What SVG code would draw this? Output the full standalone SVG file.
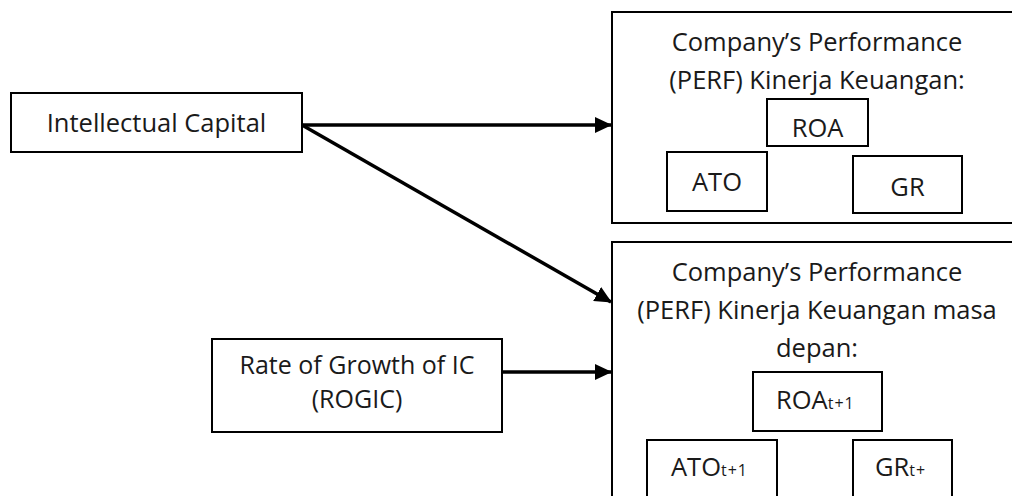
<svg xmlns="http://www.w3.org/2000/svg" width="1012" height="496" viewBox="0 0 1012 496">
<defs>
<style>
.box{fill:#fff;stroke:#000;stroke-width:2}
.t{font-family:"Open Sans","Liberation Sans",sans-serif;font-size:25.5px;fill:#1a1a1a}
.m{text-anchor:middle}
.sub{font-size:16px;letter-spacing:1px}
.conn{stroke:#000;stroke-width:3.5;fill:none}
</style>
<marker id="ah" markerUnits="userSpaceOnUse" markerWidth="18" markerHeight="16" refX="16" refY="8" orient="auto">
<path d="M0,0 L17,8 L0,16 Z" fill="#000"/>
</marker>
</defs>
<rect width="1012" height="496" fill="#fff"/>
<g id="ic">
<rect class="box" x="11" y="93" width="291" height="59"/>
<text class="t m" x="156.5" y="132">Intellectual Capital</text>
</g>
<g id="rogic">
<rect class="box" x="212" y="339" width="290" height="93"/>
<text class="t m" x="357" y="374" style="font-size:25px">Rate of Growth of IC</text>
<text class="t m" x="357" y="408" style="font-size:25px">(ROGIC)</text>
</g>
<g id="perf">
<rect class="box" x="612" y="12" width="412" height="211"/>
<text class="t m" x="817" y="51">Company’s Performance</text>
<text class="t m" x="817" y="89">(PERF) Kinerja Keuangan:</text>
<g id="roa"><rect class="box" x="767" y="99" width="101" height="47"/><text class="t m" x="817.5" y="137">ROA</text></g>
<g id="ato"><rect class="box" x="667" y="152" width="100" height="59"/><text class="t m" x="717" y="191">ATO</text></g>
<g id="gr"><rect class="box" x="853" y="156" width="109" height="57"/><text class="t m" x="907.5" y="196">GR</text></g>
</g>
<g id="perf_future">
<rect class="box" x="612" y="242" width="412" height="270"/>
<text class="t m" x="817" y="281">Company’s Performance</text>
<text class="t m" x="817" y="319">(PERF) Kinerja Keuangan masa</text>
<text class="t m" x="817" y="357">depan:</text>
<g id="roa_t1"><rect class="box" x="753" y="372" width="129" height="59"/><text class="t" x="776" y="409">ROA<tspan class="sub">t+1</tspan></text></g>
<g id="ato_t1"><rect class="box" x="647" y="440" width="130" height="70"/><text class="t" x="671" y="476">ATO<tspan class="sub">t+1</tspan></text></g>
<g id="gr_t1"><rect class="box" x="853" y="440" width="99" height="70"/><text class="t" x="875" y="476">GR<tspan class="sub">t+</tspan></text></g>
</g>
<g id="connectors">
<line class="conn" x1="302" y1="125" x2="611" y2="125" marker-end="url(#ah)"/>
<line class="conn" x1="302" y1="125" x2="611" y2="302" marker-end="url(#ah)"/>
<line class="conn" x1="502" y1="372" x2="611" y2="372" marker-end="url(#ah)"/>
</g>
</svg>
